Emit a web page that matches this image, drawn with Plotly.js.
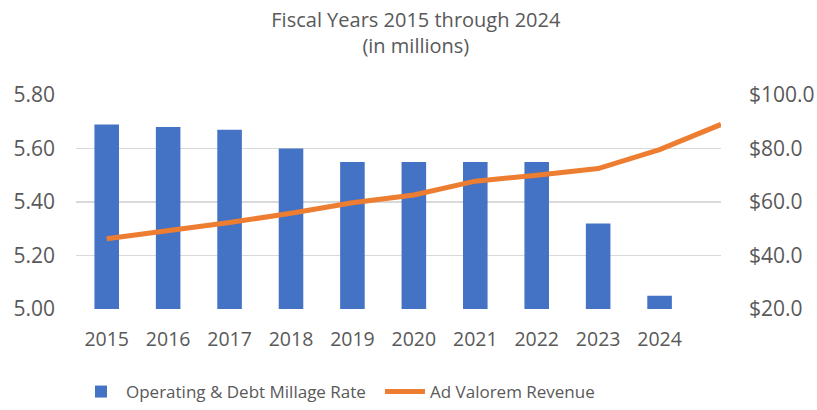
<!DOCTYPE html>
<html>
<head>
<meta charset="utf-8">
<script src="https://cdn.plot.ly/plotly-3.0.1.min.js"></script>
<style>html,body{margin:0;padding:0;background:#fff;}#chart{width:817px;height:410px;}</style>
</head>
<body>
<div id="chart"></div>
<script>
const millageYears = ['2015','2016','2017','2018','2019','2020','2021','2022','2023','2024'];
const millageRate = [5.69, 5.68, 5.67, 5.60, 5.55, 5.55, 5.55, 5.55, 5.32, 5.05];
const revenueYears = ['2015','2016','2017','2018','2019','2020','2021','2022','2023','2024','2025'];
const adValoremRevenue = [46.3, 49.3, 52.3, 55.8, 59.7, 62.6, 67.8, 70.0, 72.5, 79.6, 89.0];
const leftTicks = [5.0, 5.2, 5.4, 5.6, 5.8];
const rightTicks = [20, 40, 60, 80, 100];

const font = '"Open Sans", "Noto Sans", sans-serif';
const grey = '#595959';

const traces = [
  {
    type: 'bar', name: 'Operating & Debt Millage Rate',
    x: millageYears, y: millageRate,
    marker: {color: '#4472C4'}, yaxis: 'y'
  },
  {
    type: 'scatter', mode: 'lines', name: 'Ad Valorem Revenue',
    x: revenueYears, y: adValoremRevenue,
    line: {color: '#ED7D31', width: 5}, yaxis: 'y2'
  }
];

const layout = {
  width: 817, height: 410,
  margin: {l: 76, r: 96, t: 95, b: 101},
  paper_bgcolor: '#fff', plot_bgcolor: '#fff',
  font: {family: font, color: grey, size: 20},
  title: {text: 'Fiscal Years 2015 through 2024<br>(in millions)', x: 0.509, xanchor: 'center', y: 0.935, yanchor: 'top', font: {size: 20, color: grey}},
  bargap: 0.6,
  showlegend: true,
  legend: {orientation: 'h', x: 0.093, xanchor: 'left', xref: 'container', y: 0, yanchor: 'bottom', yref: 'container',
           font: {size: 17, color: grey}, itemwidth: 40, entrywidth: 249, entrywidthmode: 'pixels', traceorder: 'normal'},
  xaxis: {
    type: 'category', categoryorder: 'array', categoryarray: revenueYears,
    tickvals: millageYears, ticktext: millageYears,
    showgrid: false, zeroline: false, showline: false, ticks: '',
    ticklabelstandoff: 16, tickfont: {size: 19.5, color: grey}
  },
  yaxis: {
    range: [5.0, 5.8], tickvals: leftTicks, ticktext: leftTicks.map(v => v.toFixed(2)),
    showgrid: true, gridcolor: '#d9d9d9', gridwidth: 1.5, zeroline: false, showline: false,
    ticks: '', ticklabelstandoff: 20, tickfont: {size: 21, color: grey}
  },
  yaxis2: {
    overlaying: 'y', side: 'right', range: [20, 100],
    tickvals: rightTicks, ticktext: rightTicks.map(v => '$' + v.toFixed(1)),
    showgrid: false, zeroline: false, showline: false, ticks: '',
    ticklabelstandoff: 27, tickfont: {size: 21, color: grey}
  }
};

Plotly.newPlot('chart', traces, layout, {displayModeBar: false, staticPlot: true});
</script>
</body>
</html>
